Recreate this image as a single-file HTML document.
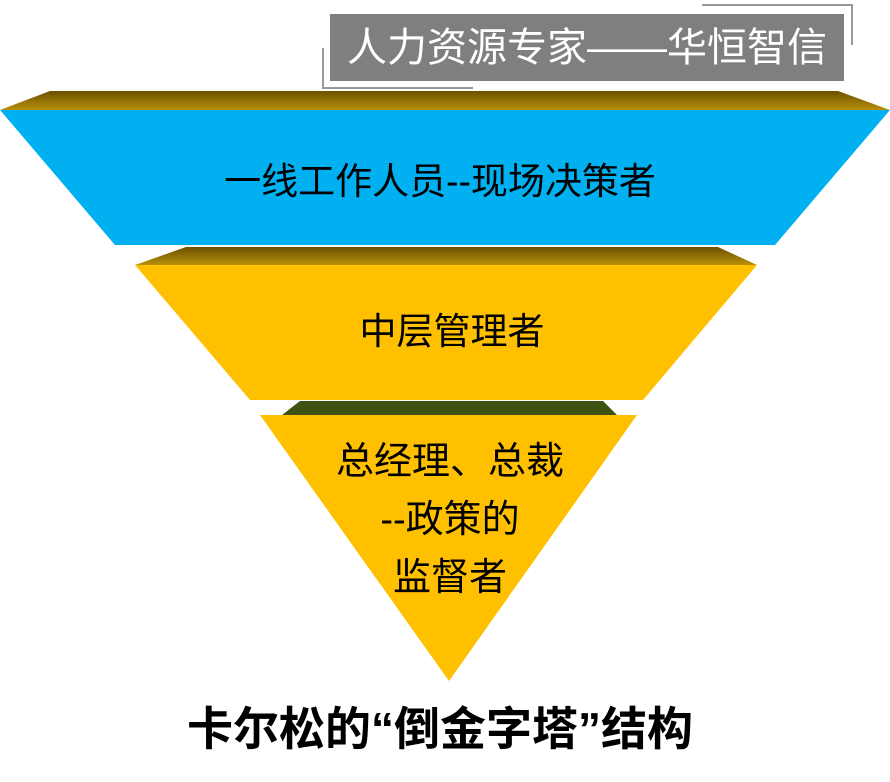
<!DOCTYPE html>
<html><head><meta charset="utf-8"><style>
html,body{margin:0;padding:0;background:#fff;}
svg text{font-family:"Liberation Sans","Noto Sans CJK SC",sans-serif;}
</style></head><body>
<svg width="890" height="777" viewBox="0 0 890 777" xmlns="http://www.w3.org/2000/svg">
<defs>
<linearGradient id="br" x1="0" y1="0" x2="0" y2="1"><stop offset="0" stop-color="#6b5000"/><stop offset="1" stop-color="#b8900a"/></linearGradient>
</defs>
<!-- header -->
<polyline points="702,5 852,5 852,45" fill="none" stroke="#999" stroke-width="2"/>
<polyline points="323,48 323,88 473,88" fill="none" stroke="#999" stroke-width="2"/>
<rect x="330" y="14" width="514" height="67" fill="#7f7f7f"/>
<text x="587" y="61" font-size="40" fill="#fff" text-anchor="middle">人力资源专家——华恒智信</text>
<!-- top band -->
<polygon points="50,91 838,91 890,110 0,110" fill="url(#br)"/>
<polygon points="0,110 890,110 775,245 115,245" fill="#00b0f0"/>
<text x="440" y="194" font-size="37" fill="#000" text-anchor="middle">一线工作人员--现场决策者</text>
<!-- middle -->
<polygon points="186,247 718,247 757,265 135,265" fill="url(#br)"/>
<polygon points="135,265 757,265 643,400 250,400" fill="#ffc000"/>
<text x="452" y="344" font-size="37" fill="#000" text-anchor="middle">中层管理者</text>
<!-- bottom -->
<polygon points="300,401 603,401 617,415 282,415" fill="#3d5213"/>
<polygon points="260,415 637,415 449,681" fill="#ffc000"/>
<text x="450" y="474" font-size="38" fill="#000" text-anchor="middle">总经理、总裁</text>
<text x="450" y="532" font-size="38" fill="#000" text-anchor="middle">--政策的</text>
<text x="450" y="590" font-size="38" fill="#000" text-anchor="middle">监督者</text>
<text x="440" y="745" font-size="46" font-weight="bold" fill="#000" text-anchor="middle">卡尔松的“倒金字塔”结构</text>
</svg>
</body></html>
